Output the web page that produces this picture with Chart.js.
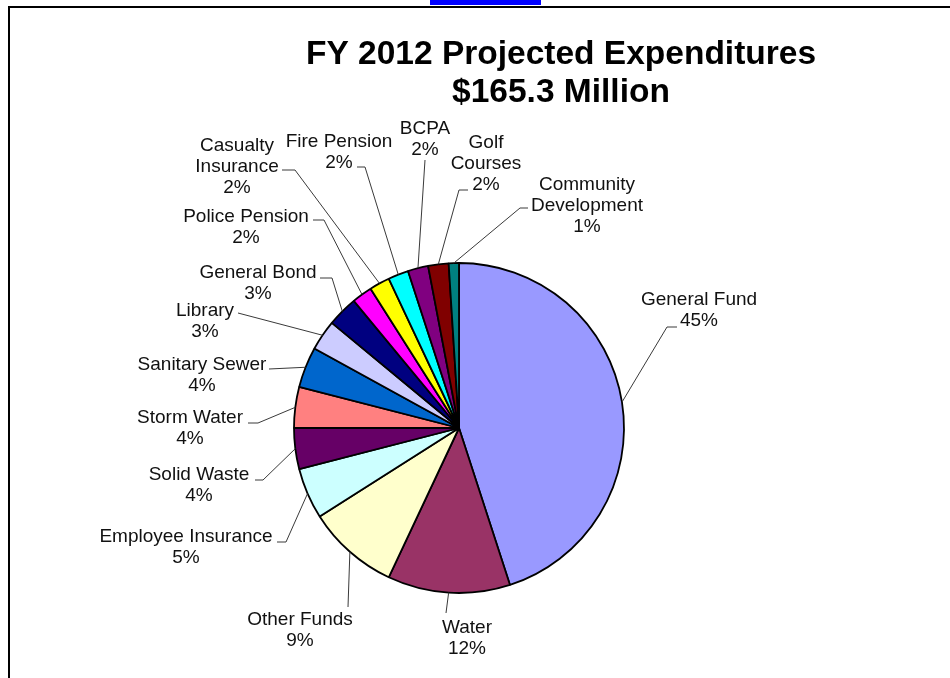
<!DOCTYPE html>
<html>
<head>
<meta charset="utf-8">
<title>FY 2012 Projected Expenditures</title>
<script src="https://cdn.jsdelivr.net/npm/chart.js@4.4.1/dist/chart.umd.min.js"></script>
<style>
  html, body { margin: 0; padding: 0; background: #fff; }
  #wrap { width: 950px; height: 678px; position: relative; }
</style>
</head>
<body>
<div id="wrap"><canvas id="expChart" width="950" height="678"></canvas></div>
<script>
// --- Data ---
const titleLines = ['FY 2012 Projected Expenditures', '$165.3 Million'];
const categories = [
    ['General Fund'], ['Water'], ['Other Funds'], ['Employee Insurance'],
    ['Solid Waste'], ['Storm Water'], ['Sanitary Sewer'], ['Library'],
    ['General Bond'], ['Police Pension'], ['Casualty', 'Insurance'],
    ['Fire Pension'], ['BCPA'], ['Golf', 'Courses'], ['Community', 'Development']
];
const percents = [45, 12, 9, 5, 4, 4, 4, 3, 3, 2, 2, 2, 2, 2, 1];
const sliceColors = [
    '#9999FF', '#993366', '#FFFFCC', '#CCFFFF', '#660066',
    '#FF8080', '#0066CC', '#CCCCFF', '#000080', '#FF00FF',
    '#FFFF00', '#00FFFF', '#800080', '#800000', '#008080'
];

// label placement: text centre x, first baseline y, and the leader path
// (attach = where the line leaves the text, elbow = bend before the pie edge)
const labelLayout = [
    { x: 699, y: 305, attach: [677, 327], elbow: [667, 327] },
    { x: 467, y: 633, attach: null, elbow: [446, 613] },
    { x: 300, y: 625, attach: null, elbow: [348, 607] },
    { x: 186, y: 542, attach: [277, 542], elbow: [286, 542] },
    { x: 199, y: 480, attach: [255, 480], elbow: [263, 480] },
    { x: 190, y: 423, attach: [248, 423], elbow: [258, 423] },
    { x: 202, y: 370, attach: null, elbow: [269, 369] },
    { x: 205, y: 316, attach: null, elbow: [238, 313] },
    { x: 258, y: 278, attach: [320, 278], elbow: [332, 278] },
    { x: 246, y: 222, attach: [313, 220], elbow: [324, 220] },
    { x: 237, y: 151, attach: [282, 170], elbow: [295, 170] },
    { x: 339, y: 147, attach: [357, 167], elbow: [365, 167] },
    { x: 425, y: 134, attach: null, elbow: [425, 160] },
    { x: 486, y: 148, attach: [468, 190], elbow: [459, 190] },
    { x: 587, y: 190, attach: [528, 208], elbow: [520, 208] }
];

const LABEL_FONT = '19px "Liberation Sans", Arial, sans-serif';
const LINE_H = 21;

// page frame, link underline and title
const framePlugin = {
    id: 'frame',
    beforeDraw(chart) {
        const c = chart.ctx;
        c.save();
        c.fillStyle = '#fff';
        c.fillRect(0, 0, chart.width, chart.height);
        c.fillStyle = '#0000FF';
        c.fillRect(430, 0, 111, 5);
        c.strokeStyle = '#000';
        c.lineWidth = 2;
        c.beginPath();
        c.moveTo(950, 7);
        c.lineTo(9, 7);
        c.lineTo(9, 678);
        c.stroke();

        c.fillStyle = '#000';
        c.textAlign = 'center';
        c.textBaseline = 'alphabetic';
        c.font = 'bold 33.5px "Liberation Sans", Arial, sans-serif';
        c.fillText(titleLines[0], 561, 64);
        c.fillText(titleLines[1], 561, 102);
        c.restore();
    }
};

// category labels with leader lines to the middle of each slice
const leaderPlugin = {
    id: 'leaderLabels',
    afterDatasetsDraw(chart) {
        const c = chart.ctx;
        const meta = chart.getDatasetMeta(0);
        c.save();
        meta.data.forEach((arc, i) => {
            const lay = labelLayout[i];
            const p = arc.getProps(['x', 'y', 'startAngle', 'endAngle', 'outerRadius'], true);
            const mid = (p.startAngle + p.endAngle) / 2;
            const ex = p.x + p.outerRadius * Math.cos(mid);
            const ey = p.y + p.outerRadius * Math.sin(mid);

            c.strokeStyle = '#3a3a3a';
            c.lineWidth = 1;
            c.beginPath();
            if (lay.attach) c.moveTo(lay.attach[0], lay.attach[1]);
            else c.moveTo(lay.elbow[0], lay.elbow[1]);
            c.lineTo(lay.elbow[0], lay.elbow[1]);
            c.lineTo(ex, ey);
            c.stroke();

            const lines = categories[i].concat([percents[i] + '%']);
            c.fillStyle = '#111';
            c.font = LABEL_FONT;
            c.textAlign = 'center';
            c.textBaseline = 'alphabetic';
            lines.forEach((t, k) => c.fillText(t, lay.x, lay.y + k * LINE_H));
        });
        c.restore();
    }
};

const ctx = document.getElementById('expChart').getContext('2d');
const expChart = new Chart(ctx, {
    type: 'pie',
    data: {
        labels: categories,
        datasets: [{
            data: percents,
            backgroundColor: sliceColors,
            borderColor: '#000',
            borderWidth: 1.8,
            radius: 165
        }]
    },
    options: {
        responsive: false,
        animation: false,
        layout: {
            padding: { left: 200, right: 232, top: 200, bottom: 22 }
        },
        plugins: {
            legend: { display: false },
            tooltip: { enabled: false },
            title: { display: false }
        }
    },
    plugins: [framePlugin, leaderPlugin]
});
</script>
</body>
</html>
